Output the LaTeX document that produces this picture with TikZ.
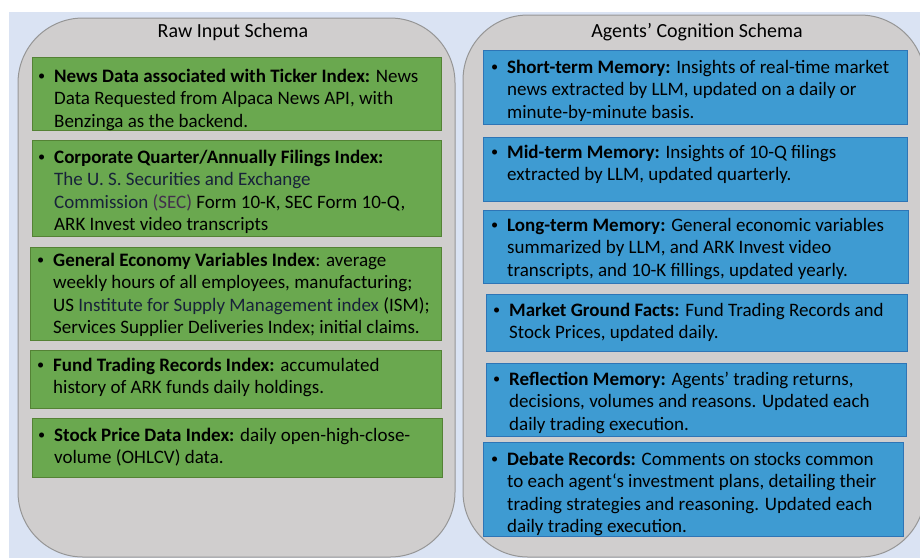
\documentclass[tikz,border=0pt]{standalone}
\usepackage{fontspec}
\usepackage{graphicx}
\setmainfont{Carlito}
\definecolor{bgblue}{RGB}{218,227,243}
\definecolor{panelfill}{RGB}{208,206,206}
\definecolor{paneldraw}{RGB}{150,150,150}
\definecolor{gfill}{RGB}{106,168,79}
\definecolor{gdraw}{RGB}{84,130,53}
\definecolor{bfill}{RGB}{62,155,210}
\definecolor{bdraw}{RGB}{46,117,182}
\definecolor{navy}{RGB}{24,34,58}
\definecolor{plum}{RGB}{66,48,76}
\newcommand\smallbul{\raisebox{1.5pt}{\scalebox{0.75}{\textbullet}}}
\newcommand\bullist[1]{\begin{tabular}[t]{@{}p{17pt}@{}l@{}}\hspace{1pt}\smallbul&#1\end{tabular}}
\begin{document}
\begin{tikzpicture}[x=1pt,y=-1pt,
  panel/.style={draw=paneldraw,fill=panelfill,line width=1pt,rounded corners=65pt,inner sep=0pt,outer sep=0pt,anchor=north west},
  gbox/.style={draw=gdraw,fill=gfill,line width=0.8pt,inner sep=0pt,outer sep=0pt,anchor=north west},
  bbox/.style={draw=bdraw,fill=bfill,line width=0.8pt,inner sep=0pt,outer sep=0pt,anchor=north west},
  txt/.style={inner sep=0pt,anchor=base west,font=\fontsize{19}{22.6}\selectfont},
  ttl/.style={inner sep=0pt,anchor=base,font=\fontsize{20}{22}\selectfont}]
\useasboundingbox (0,0) rectangle (920,558);
\clip (0,0) rectangle (920,558);
\fill[bgblue] (9,12) rectangle (920,558);
% panels
\node[panel,minimum width=437pt,minimum height=539pt] (lp) at (18,18) {};
\node[panel,minimum width=462pt,minimum height=542pt] (rp) at (463,15) {};
\node[ttl] (lt) at (233,37) {Raw Input Schema};
\node[ttl] (rt) at (697,37) {Agents’ Cognition Schema};
% left boxes
\node[gbox,minimum width=409pt,minimum height=73pt] (g1) at (32,57) {};
\node[gbox,minimum width=409pt,minimum height=96pt] (g2) at (32,140) {};
\node[gbox,minimum width=411pt,minimum height=93pt] (g3) at (30,247) {};
\node[gbox,minimum width=411pt,minimum height=58pt] (g4) at (30,350) {};
\node[gbox,minimum width=410pt,minimum height=59pt] (g5) at (32,418) {};
\node[txt] (gt1) at (37,82) {\bullist{\textbf{News Data associated with Ticker Index:} News\\&Data Requested from Alpaca News API, with\\&Benzinga as the backend.}};
\node[txt] (gt2) at (37,163) {\bullist{\textbf{Corporate Quarter/Annually Filings Index:}\\&\textcolor{navy}{The U. S. Securities and Exchange}\\&\textcolor{navy}{Commission} \textcolor{plum}{(SEC)} Form 10-K, SEC Form 10-Q,\\&ARK Invest video transcripts}};
\node[txt] (gt3) at (36,266) {\bullist{\textbf{General Economy Variables Index}: average\\&weekly hours of all employees, manufacturing;\\&US \textcolor{navy}{Institute for Supply Management index} (ISM);\\&Services Supplier Deliveries Index; initial claims.}};
\node[txt] (gt4) at (36,371) {\bullist{\textbf{Fund Trading Records Index:} accumulated\\&history of ARK funds daily holdings.}};
\node[txt] (gt5) at (37,441) {\bullist{\textbf{Stock Price Data Index:} daily open-high-close-\\&volume (OHLCV) data.}};
% right boxes
\node[bbox,minimum width=424pt,minimum height=74pt] (b1) at (483,50) {};
\node[bbox,minimum width=424pt,minimum height=64pt] (b2) at (483,137) {};
\node[bbox,minimum width=425pt,minimum height=73pt] (b3) at (483,210) {};
\node[bbox,minimum width=421pt,minimum height=57pt] (b4) at (486,294) {};
\node[bbox,minimum width=420pt,minimum height=73pt] (b5) at (486,363) {};
\node[bbox,minimum width=420pt,minimum height=94pt] (b6) at (483,442) {};
\node[txt] (bt1) at (490,73) {\bullist{\textbf{Short-term Memory:} Insights of real-time market\\&news extracted by LLM, updated on a daily or\\&minute-by-minute basis.}};
\node[txt] (bt2) at (490,158) {\bullist{\textbf{Mid-term Memory:} Insights of 10-Q filings\\&extracted by LLM, updated quarterly.}};
\node[txt] (bt3) at (490,231) {\bullist{\textbf{Long-term Memory:} General economic variables\\&summarized by LLM, and ARK Invest video\\&transcripts, and 10-K fillings, updated yearly.}};
\node[txt] (bt4) at (492,316) {\bullist{\textbf{Market Ground Facts:} Fund Trading Records and\\&Stock Prices, updated daily.}};
\node[txt] (bt5) at (492,385) {\bullist{\textbf{Reflection Memory:} Agents’ trading returns,\\&decisions, volumes and reasons. Updated each\\&daily trading execution.}};
\node[txt] (bt6) at (490,465) {\bullist{\textbf{Debate Records:} Comments on stocks common\\&to each agent‘s investment plans, detailing their\\&trading strategies and reasoning. Updated each\\&daily trading execution.}};
\end{tikzpicture}
\end{document}
